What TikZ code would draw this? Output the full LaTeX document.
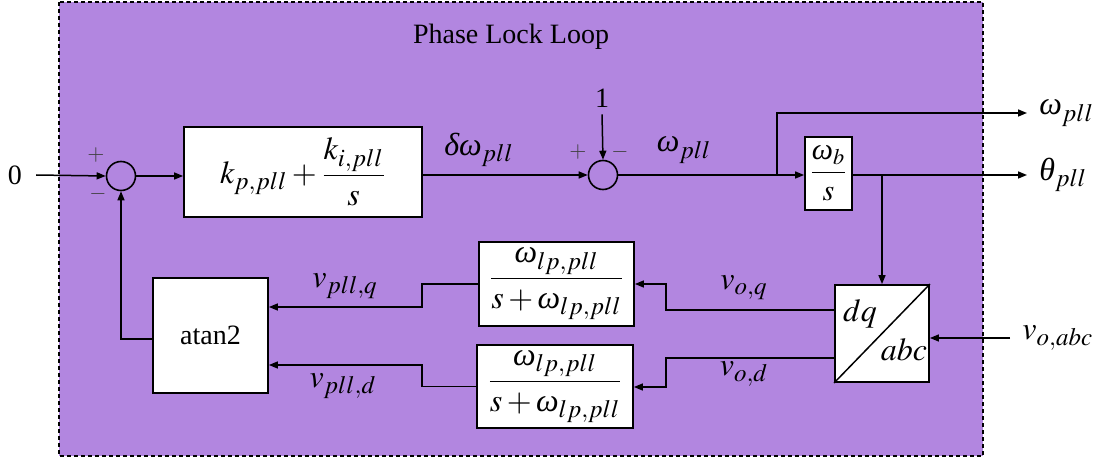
\documentclass[tikz,border=0pt]{standalone}
\usepackage{amsmath}
\usepackage{mathptmx}
\usepackage{fontspec}
\setmainfont{Liberation Serif}
\usetikzlibrary{arrows.meta}

\DeclareMathSizes{16}{16}{12.5}{10}
\definecolor{pllfill}{RGB}{178,134,224}
% Greek letters from the text font (Times-like)
\newcommand{\omg}{\textit{ω}}
\newcommand{\dlt}{\textit{δ}}
\newcommand{\tht}{\textit{θ}}

\begin{document}
\begin{tikzpicture}[x=0.5pt, y=-0.5pt, font=\fontsize{14}{16}\selectfont,
    blk/.style={draw, fill=white, line width=0.9pt, inner sep=0pt},
    sumnode/.style={draw, circle, minimum size=14.5pt, inner sep=0pt, line width=0.8pt},
    wire/.style={line width=0.75pt},
    sig/.style={wire, -{Triangle[length=4.5pt, width=3.5pt]}},
    sgn/.style={font=\fontsize{11}{12}\selectfont, text=black!75},
    mth/.style={font=\fontsize{16}{18}\selectfont},
    outlbl/.style={mth, anchor=west, inner sep=6pt}]

    \useasboundingbox (0,0) rectangle (1095,459);

    % PLL frame
    \draw[fill=pllfill, dash pattern=on 2pt off 1.5pt, line width=0.8pt] (59,2) rectangle (983,456);
    \node (title) at (511,37) {Phase Lock Loop};

    % Input and first summing point
    \node (in0) at (15,175) {0};
    \node[sumnode] (sum1) at (121,176) {};
    \node[sgn] (sum1p) at (96,155) {$+$};
    \node[sgn] (sum1m) at (98,194) {$-$};

    % PI controller
    \node[blk, mth, minimum width=119pt, minimum height=45pt] (pi) at (303,172)
        {$k_{p,pll} + \dfrac{k_{i,pll}}{s}$};
    \node[mth] (dw) at (479,150) {$\dlt\omg_{pll}$};

    % Second summing point with reference 1
    \node[sumnode] (sum2) at (603,175) {};
    \node (one) at (602,98) {1};
    \node[sgn] (sum2p) at (578,152) {$+$};
    \node[sgn] (sum2m) at (620,152) {$-$};
    \node[mth] (wmid) at (684,150) {$\omg_{pll}$};

    % Integrator
    \node[blk, minimum width=23.5pt, minimum height=36.5pt] (integ) at (828.5,173.5)
        {\fontsize{15}{16}\selectfont$\dfrac{\omg_b}{s}$};

    % Outputs
    \node[outlbl] (wout) at (1027,113) {$\omg_{pll}$};
    \node[outlbl] (thout) at (1027,175) {$\tht_{pll}$};
    \coordinate (br1) at (777,175);
    \coordinate (br2) at (882,175);

    % dq/abc transform
    \node[blk, minimum width=47pt, minimum height=48.5pt] (dq) at (882,333.5) {};
    \draw[line width=0.75pt] (dq.south west) -- (dq.north east);
    \node[mth] (dqtxt) at (860,314) {$dq$};
    \node[mth] (abctxt) at (904,350) {$abc$};
    \node[outlbl] (vin) at (1010,338) {$v_{o,abc}$};

    % Low pass filters
    \node[blk, mth, minimum width=77.5pt, minimum height=42pt] (lpfq) at (556.5,284)
        {$\dfrac{\omg_{lp,pll}}{s+\omg_{lp,pll}}$};
    \node[blk, mth, minimum width=78pt, minimum height=41.5pt] (lpfd) at (555,386.5)
        {$\dfrac{\omg_{lp,pll}}{s+\omg_{lp,pll}}$};
    \node[mth] (voq) at (744,288) {$v_{o,q}$};
    \node[mth] (vod) at (744,374) {$v_{o,d}$};

    % atan2
    \node[blk, minimum width=57.5pt, minimum height=57.5pt] (atan) at (210.5,335.5) {atan2};
    \node[mth] (vpq) at (345,286) {$v_{pll,q}$};
    \node[mth] (vpd) at (343,386) {$v_{pll,d}$};

    % Jog points
    \coordinate (jq) at (666,284);
    \coordinate (jd) at (666,387);
    \coordinate (kq) at (422,307);
    \coordinate (kd) at (422,365);

    % Forward path
    \draw[sig] ([xshift=3.5pt]in0.east) -- (sum1.west);
    \draw[sig] (sum1.east) -- (sum1.east -| pi.west);
    \draw[sig] (pi.east |- sum2) -- (sum2.west);
    \draw[sig] (one.south) -- (sum2.north);
    \draw[sig] (sum2.east) -- (sum2.east -| integ.west);
    \draw[sig] (br1) |- (wout.west);
    \draw[sig] (integ.east |- br2) -- (thout.west);
    \draw[sig] (br2) -- (dq.north);

    % Feedback path
    \draw[sig] (vin.west) -- (vin.west -| dq.east);
    \draw[sig] ([yshift=11.75pt]dq.west) -| (jq) -- (lpfq.east);
    \draw[sig] ([yshift=-12.25pt]dq.west) -| (jd) -- (lpfd.east |- jd);
    \draw[sig] (lpfq.west) -| (kq) -- (kq -| atan.east);
    \draw[sig] (lpfd.west) -| (kd) -- (kd -| atan.east);
    \draw[sig] ([yshift=-1.75pt]atan.west) -| (sum1.south);

\end{tikzpicture}
\end{document}
